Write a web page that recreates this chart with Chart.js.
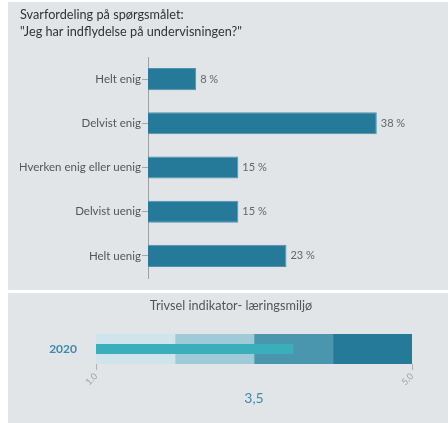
<!DOCTYPE html>
<html>
<head>
<meta charset="utf-8">
<script src="https://cdn.jsdelivr.net/npm/chart.js@4/dist/chart.umd.min.js"></script>
<style>
  html, body { margin: 0; padding: 0; background: #ffffff; width: 448px; height: 423px; overflow: hidden; }
  .panel { position: absolute; background: #e1e5e8; }
  #topPanel { left: 8px; top: 2px; width: 440px; height: 288px; }
  #bottomPanel { left: 8px; top: 293px; width: 440px; height: 130px; }
  canvas { display: block; }
</style>
</head>
<body>
<div class="panel" id="topPanel"><canvas id="answers" width="440" height="288"></canvas></div>
<div class="panel" id="bottomPanel"><canvas id="indicator" width="440" height="130"></canvas></div>
<script>
// Answer distribution
const questionTitle = ['Svarfordeling på spørgsmålet:', '"Jeg har indflydelse på undervisningen?"'];
const categories = ['Helt enig', 'Delvist enig', 'Hverken enig eller uenig', 'Delvist uenig', 'Helt uenig'];
const shares = [8, 38, 15, 15, 23];

// Well-being indicator (bullet)
const indicatorTitle = 'Trivsel indikator- læringsmiljø';
const indicatorYears = ['2020'];
const bandEdges = [1, 2, 3, 4, 5];
const indicatorValues = [3.5];
const indicatorTicks = [1, 5];

const FONT = 'Lato, "Open Sans", sans-serif';
Chart.defaults.font.family = FONT;

// Writes "NN %" just past the end of each bar
const valueLabels = {
  id: 'valueLabels',
  afterDatasetsDraw(chart) {
    const ctx = chart.ctx;
    const meta = chart.getDatasetMeta(0);
    ctx.save();
    ctx.font = '11px ' + FONT;
    ctx.fillStyle = '#666666';
    ctx.textAlign = 'left';
    ctx.textBaseline = 'middle';
    meta.data.forEach((bar, i) => {
      ctx.fillText(shares[i] + ' %', bar.x + 4, bar.y);
    });
    ctx.restore();
  }
};

new Chart(document.getElementById('answers'), {
  type: 'bar',
  data: {
    labels: categories,
    datasets: [{
      data: shares,
      backgroundColor: '#267a99',
      borderColor: '#4e93ae',
      borderWidth: 1,
      barPercentage: 0.5,
      categoryPercentage: 1
    }]
  },
  options: {
    indexAxis: 'y',
    responsive: false,
    animation: false,
    devicePixelRatio: 1,
    layout: { padding: { left: 12, right: 11, top: 0, bottom: 12 } },
    plugins: {
      legend: { display: false },
      tooltip: { enabled: false },
      title: {
        display: true,
        text: questionTitle,
        align: 'start',
        color: '#333333',
        font: { size: 12.7, family: FONT, weight: 'normal', lineHeight: '17px' },
        padding: { top: 4.5, bottom: 16.5 }
      }
    },
    scales: {
      x: { display: false, min: 0, max: 48 },
      y: {
        afterFit(scale) { scale.width = 128; },
        grid: { display: true, drawOnChartArea: false, offset: false, tickLength: 6, color: '#a8a8a8' },
        border: { display: true, color: '#a0a0a0', width: 1 },
        ticks: { color: '#555555', padding: 1, font: { size: 11.5, family: FONT } }
      }
    }
  },
  plugins: [valueLabels]
});

// Qualitative bands behind the indicator bar, light to dark
const bandColors = ['#d0e4eb', '#9fcbd8', '#4a96ae', '#267a99'];
const bandSets = bandColors.map((c, i) => ({
  data: [[bandEdges[i], bandEdges[i + 1]]],
  backgroundColor: c,
  barPercentage: 1,
  categoryPercentage: 1,
  grouped: false
}));

new Chart(document.getElementById('indicator'), {
  type: 'bar',
  data: {
    labels: indicatorYears,
    datasets: [{
      data: indicatorValues.map(v => [bandEdges[0], v]),
      backgroundColor: '#3aaebb',
      barPercentage: 1 / 3,
      categoryPercentage: 1,
      grouped: false
    }].concat(bandSets)
  },
  options: {
    indexAxis: 'y',
    responsive: false,
    animation: false,
    devicePixelRatio: 1,
    layout: { padding: { left: 0, right: 36, top: 41, bottom: 0 } },
    plugins: {
      legend: { display: false },
      tooltip: { enabled: false },
      title: { display: false }
    },
    scales: {
      x: {
        min: bandEdges[0],
        max: bandEdges[bandEdges.length - 1],
        afterFit(scale) { scale.height = 59; },
        afterBuildTicks(scale) { scale.ticks = indicatorTicks.map(v => ({ value: v })); },
        grid: { display: true, drawOnChartArea: false, tickLength: 6, color: '#b0b0b0' },
        border: { display: false },
        ticks: {
          minRotation: 45,
          maxRotation: 45,
          color: '#a0a0a0',
          padding: 1,
          font: { size: 9, family: FONT },
          callback: v => Number(v).toFixed(1)
        },
        title: {
          display: true,
          text: indicatorValues[0].toFixed(1).replace('.', ','),
          color: '#3a8aad',
          font: { size: 14, family: FONT },
          padding: { top: 0, bottom: 16.6 }
        }
      },
      y: {
        afterFit(scale) { scale.width = 88; },
        grid: { display: false, drawTicks: false },
        border: { display: false },
        ticks: { color: '#3b8bad', padding: 19, font: { size: 12, weight: 'bold', family: FONT } }
      }
    }
  }
});

// Panel heading above the indicator
const heading = document.createElement('div');
heading.textContent = indicatorTitle;
heading.style.cssText = 'position:absolute;left:0;top:5px;width:446px;text-align:center;font-size:12.7px;line-height:15px;font-family:' + FONT + ';color:#555555;';
document.getElementById('bottomPanel').appendChild(heading);
</script>
</body>
</html>
